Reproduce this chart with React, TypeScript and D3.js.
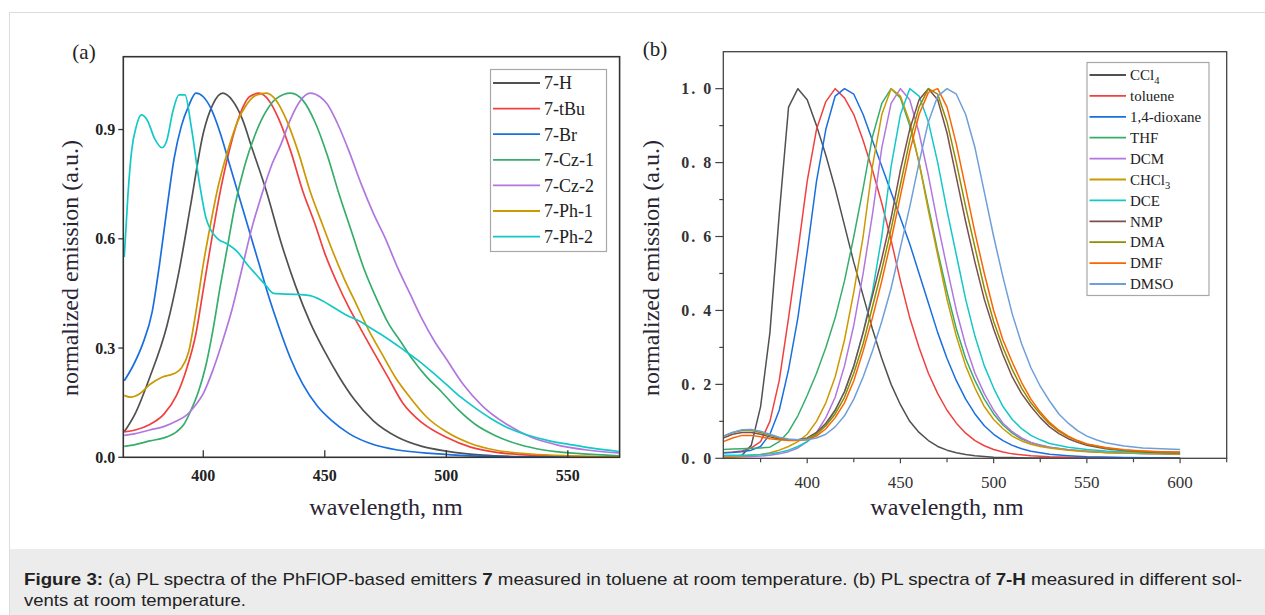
import { useEffect, useRef } from 'react'
import * as d3 from 'd3'

type Pt = [number, number]

// ── (a) PL spectra of emitters 7 in toluene  [wavelength nm, normalized emission] ──
const EM_7H: Pt[] = [
  [367.5, 0.07], [372, 0.12], [378, 0.22], [385, 0.36], [390, 0.51], [395, 0.70], [400, 0.89],
  [404, 0.97], [408, 1.0], [412, 0.98], [416, 0.93], [420, 0.85], [426, 0.73], [432, 0.59],
  [438, 0.47], [444, 0.37], [450, 0.29], [456, 0.22], [462, 0.16], [470, 0.10], [480, 0.055],
  [490, 0.03], [500, 0.017], [515, 0.006], [530, 0.002], [550, 0.0005], [571, 0],
]
const EM_7TBU: Pt[] = [
  [367.5, 0.07], [372, 0.075], [378, 0.09], [384, 0.12], [389, 0.17], [393, 0.24], [397, 0.34],
  [400, 0.46], [403, 0.58], [407, 0.73], [411, 0.85], [415, 0.94], [419, 0.99], [423, 1.0],
  [427, 0.98], [431, 0.93], [436, 0.84], [441, 0.73], [446, 0.64], [450, 0.56], [455, 0.48],
  [460, 0.41], [465, 0.35], [470, 0.29], [476, 0.22], [482, 0.15], [490, 0.095], [500, 0.055],
  [510, 0.028], [520, 0.014], [535, 0.006], [550, 0.003], [571, 0],
]
const EM_7BR: Pt[] = [
  [367.5, 0.21], [371, 0.25], [375, 0.31], [379, 0.40], [382, 0.53], [385, 0.68], [388, 0.82],
  [391, 0.91], [394, 0.965], [397, 1.0], [400, 0.99], [403, 0.96], [407, 0.89], [411, 0.80],
  [415, 0.71], [419, 0.62], [423, 0.53], [427, 0.44], [431, 0.36], [436, 0.27], [441, 0.20],
  [447, 0.14], [453, 0.10], [460, 0.065], [470, 0.035], [480, 0.02], [495, 0.01], [510, 0.004],
  [530, 0.001], [571, 0],
]
const EM_7CZ1: Pt[] = [
  [367.5, 0.03], [372, 0.035], [378, 0.045], [385, 0.056], [389, 0.07], [392, 0.09], [395, 0.13],
  [398, 0.18], [401, 0.25], [404, 0.35], [407, 0.47], [410, 0.58], [413, 0.69], [417, 0.80],
  [421, 0.88], [425, 0.94], [430, 0.985], [436, 1.0], [441, 0.98], [446, 0.92], [451, 0.83],
  [456, 0.72], [461, 0.62], [466, 0.52], [471, 0.44], [476, 0.37], [481, 0.32], [486, 0.27],
  [492, 0.22], [498, 0.18], [505, 0.13], [512, 0.09], [520, 0.06], [530, 0.035], [540, 0.02],
  [555, 0.01], [571, 0.004],
]
const EM_7CZ2: Pt[] = [
  [367.5, 0.06], [372, 0.065], [378, 0.075], [384, 0.085], [389, 0.1], [393, 0.115], [397, 0.145],
  [400, 0.175], [404, 0.24], [408, 0.32], [412, 0.41], [416, 0.52], [420, 0.63], [424, 0.72],
  [428, 0.80], [432, 0.86], [436, 0.93], [440, 0.98], [444, 1.0], [448, 0.99], [451, 0.97],
  [455, 0.92], [460, 0.84], [465, 0.75], [470, 0.67], [475, 0.60], [480, 0.52], [485, 0.45],
  [490, 0.38], [495, 0.32], [500, 0.27], [507, 0.2], [515, 0.14], [525, 0.09], [535, 0.055],
  [545, 0.035], [558, 0.02], [571, 0.012],
]
const EM_7PH1: Pt[] = [
  [367.5, 0.17], [370, 0.165], [374, 0.175], [378, 0.20], [383, 0.22], [388, 0.23], [391, 0.245],
  [394, 0.29], [397, 0.40], [400, 0.53], [403, 0.64], [406, 0.74], [410, 0.84], [414, 0.92],
  [418, 0.97], [422, 0.995], [426, 1.0], [430, 0.98], [434, 0.93], [439, 0.84], [444, 0.73],
  [449, 0.64], [453, 0.57], [458, 0.49], [463, 0.42], [468, 0.35], [473, 0.29], [479, 0.22],
  [485, 0.165], [492, 0.11], [500, 0.07], [510, 0.038], [520, 0.02], [535, 0.009], [550, 0.004],
  [571, 0.001],
]
const EM_7PH2: Pt[] = [
  [367.5, 0.55], [369, 0.72], [370.5, 0.84], [372.5, 0.91], [374.5, 0.94], [377, 0.925],
  [380, 0.875], [383, 0.85], [385, 0.87], [387.5, 0.95], [390, 0.995], [392.5, 0.995], [395, 0.91],
  [398.5, 0.75], [401, 0.66], [403, 0.625], [406, 0.60], [410, 0.585], [414, 0.565], [418, 0.53],
  [422, 0.50], [426, 0.47], [429, 0.45], [435, 0.448], [440, 0.447], [444, 0.444], [449, 0.43],
  [454, 0.41], [459, 0.39], [464, 0.375], [470, 0.35], [476, 0.325], [482, 0.297], [488, 0.268],
  [494, 0.235], [500, 0.20], [506, 0.165], [512, 0.135], [518, 0.108], [525, 0.082], [533, 0.062],
  [542, 0.046], [551, 0.035], [560, 0.025], [571, 0.016],
]

const EMITTERS = ['7-H', '7-tBu', '7-Br', '7-Cz-1', '7-Cz-2', '7-Ph-1', '7-Ph-2']
const EMITTER_SPECTRA = [EM_7H, EM_7TBU, EM_7BR, EM_7CZ1, EM_7CZ2, EM_7PH1, EM_7PH2]
const EMITTER_COLORS = ['#515151', '#F14040', '#1A6FDF', '#37AD6B', '#B177DE', '#CC9900', '#14C8C8']

// ── (b) PL spectra of 7-H in different solvents ──
const S_CCL4: Pt[] = [
  [355, 0.002], [360, 0.004], [365, 0.008], [370, 0.035], [375, 0.14], [380, 0.34], [385, 0.66],
  [390, 0.95], [395, 1.0], [400, 0.97], [405, 0.90], [410, 0.82], [415, 0.73], [420, 0.63],
  [425, 0.53], [430, 0.44], [435, 0.35], [440, 0.27], [445, 0.20], [450, 0.145], [455, 0.10],
  [460, 0.07], [465, 0.048], [470, 0.032], [475, 0.022], [480, 0.015], [485, 0.01], [490, 0.007],
  [495, 0.005], [500, 0.003], [510, 0.002], [520, 0.001], [540, 0.0005], [560, 0], [600, 0],
]
const S_TOLUENE: Pt[] = [
  [355, 0.015], [360, 0.017], [365, 0.02], [370, 0.028], [375, 0.045], [380, 0.10], [385, 0.21],
  [390, 0.38], [395, 0.56], [400, 0.75], [405, 0.89], [410, 0.965], [415, 1.0], [420, 0.975],
  [425, 0.93], [430, 0.86], [435, 0.78], [440, 0.69], [445, 0.59], [450, 0.48], [455, 0.38],
  [460, 0.30], [465, 0.23], [470, 0.175], [475, 0.13], [480, 0.095], [485, 0.068], [490, 0.048],
  [495, 0.034], [500, 0.024], [505, 0.017], [510, 0.012], [520, 0.007], [530, 0.004], [540, 0.003],
  [560, 0.002], [580, 0.001], [600, 0.001],
]
const S_DIOXANE: Pt[] = [
  [355, 0.015], [360, 0.016], [365, 0.018], [370, 0.022], [375, 0.032], [380, 0.065], [385, 0.13],
  [390, 0.24], [395, 0.38], [400, 0.56], [405, 0.75], [410, 0.89], [415, 0.98], [420, 1.0],
  [425, 0.985], [430, 0.93], [435, 0.86], [440, 0.79], [445, 0.72], [450, 0.65], [455, 0.58],
  [460, 0.50], [465, 0.42], [470, 0.34], [475, 0.27], [480, 0.21], [485, 0.16], [490, 0.12],
  [495, 0.088], [500, 0.065], [505, 0.048], [510, 0.035], [515, 0.026], [520, 0.019], [530, 0.011],
  [540, 0.007], [550, 0.004], [570, 0.002], [600, 0.001],
]
const S_THF: Pt[] = [
  [355, 0.024], [360, 0.025], [365, 0.026], [370, 0.027], [375, 0.028], [380, 0.03], [385, 0.045],
  [390, 0.072], [395, 0.115], [400, 0.17], [405, 0.23], [410, 0.30], [415, 0.38], [420, 0.48],
  [425, 0.60], [430, 0.73], [435, 0.87], [440, 0.96], [445, 1.0], [450, 0.975], [455, 0.90],
  [460, 0.80], [465, 0.68], [470, 0.56], [475, 0.45], [480, 0.35], [485, 0.27], [490, 0.21],
  [495, 0.16], [500, 0.12], [505, 0.09], [510, 0.068], [515, 0.052], [520, 0.042], [530, 0.03],
  [540, 0.023], [550, 0.019], [560, 0.016], [570, 0.014], [580, 0.013], [590, 0.012], [600, 0.011],
]
const S_DCM: Pt[] = [
  [355, 0.003], [360, 0.003], [365, 0.004], [370, 0.005], [375, 0.006], [380, 0.008], [385, 0.012],
  [390, 0.018], [395, 0.028], [400, 0.045], [405, 0.07], [410, 0.11], [415, 0.165], [420, 0.25],
  [425, 0.36], [430, 0.50], [435, 0.66], [440, 0.84], [445, 0.96], [450, 1.0], [455, 0.97],
  [460, 0.88], [465, 0.765], [470, 0.635], [475, 0.515], [480, 0.40], [485, 0.305], [490, 0.23],
  [495, 0.175], [500, 0.13], [505, 0.095], [510, 0.072], [515, 0.055], [520, 0.043], [525, 0.035],
  [530, 0.03], [540, 0.023], [550, 0.019], [560, 0.016], [570, 0.014], [580, 0.013], [590, 0.012],
  [600, 0.011],
]
const S_CHCL3: Pt[] = [
  [355, 0.005], [360, 0.005], [365, 0.006], [370, 0.008], [375, 0.01], [380, 0.015], [385, 0.022],
  [390, 0.032], [395, 0.045], [400, 0.065], [405, 0.10], [410, 0.15], [415, 0.22], [420, 0.32],
  [425, 0.45], [430, 0.60], [435, 0.79], [440, 0.93], [445, 1.0], [450, 0.98], [455, 0.91],
  [460, 0.80], [465, 0.67], [470, 0.55], [475, 0.43], [480, 0.33], [485, 0.25], [490, 0.19],
  [495, 0.14], [500, 0.105], [505, 0.08], [510, 0.06], [515, 0.047], [520, 0.038], [525, 0.032],
  [530, 0.028], [540, 0.022], [550, 0.018], [560, 0.016], [570, 0.014], [580, 0.013], [590, 0.012],
  [600, 0.011],
]
const S_DCE: Pt[] = [
  [355, 0.008], [360, 0.008], [365, 0.008], [370, 0.009], [375, 0.01], [380, 0.012], [385, 0.016],
  [390, 0.022], [395, 0.032], [400, 0.045], [405, 0.065], [410, 0.09], [415, 0.13], [420, 0.18],
  [425, 0.25], [430, 0.34], [435, 0.45], [440, 0.60], [445, 0.79], [450, 0.93], [455, 1.0],
  [460, 0.98], [465, 0.91], [470, 0.80], [475, 0.67], [480, 0.55], [485, 0.43], [490, 0.33],
  [495, 0.25], [500, 0.19], [505, 0.14], [510, 0.105], [515, 0.08], [520, 0.062], [525, 0.05],
  [530, 0.04], [540, 0.03], [550, 0.024], [560, 0.02], [570, 0.018], [580, 0.016], [590, 0.015],
  [600, 0.014],
]
const S_NMP: Pt[] = [
  [355, 0.055], [360, 0.065], [365, 0.07], [370, 0.07], [375, 0.065], [380, 0.058], [385, 0.052],
  [390, 0.05], [395, 0.05], [400, 0.055], [405, 0.07], [410, 0.095], [415, 0.13], [420, 0.18],
  [425, 0.25], [430, 0.34], [435, 0.44], [440, 0.54], [445, 0.65], [450, 0.78], [455, 0.89],
  [460, 0.97], [465, 1.0], [470, 0.97], [475, 0.88], [480, 0.76], [485, 0.64], [490, 0.53],
  [495, 0.43], [500, 0.35], [505, 0.28], [510, 0.22], [515, 0.175], [520, 0.14], [525, 0.11],
  [530, 0.085], [535, 0.067], [540, 0.053], [545, 0.043], [550, 0.035], [560, 0.026], [570, 0.021],
  [580, 0.018], [590, 0.016], [600, 0.015],
]
const S_DMA: Pt[] = [
  [355, 0.06], [360, 0.07], [365, 0.075], [370, 0.075], [375, 0.07], [380, 0.062], [385, 0.055],
  [390, 0.05], [395, 0.05], [400, 0.053], [405, 0.065], [410, 0.088], [415, 0.12], [420, 0.165],
  [425, 0.23], [430, 0.31], [435, 0.41], [440, 0.51], [445, 0.62], [450, 0.74], [455, 0.86],
  [460, 0.95], [465, 1.0], [470, 0.985], [475, 0.91], [480, 0.80], [485, 0.68], [490, 0.57],
  [495, 0.46], [500, 0.37], [505, 0.30], [510, 0.24], [515, 0.19], [520, 0.15], [525, 0.12],
  [530, 0.093], [535, 0.073], [540, 0.058], [545, 0.047], [550, 0.038], [560, 0.028], [570, 0.022],
  [580, 0.019], [590, 0.017], [600, 0.016],
]
const S_DMF: Pt[] = [
  [355, 0.045], [360, 0.055], [365, 0.062], [370, 0.062], [375, 0.058], [380, 0.053], [385, 0.05],
  [390, 0.048], [395, 0.048], [400, 0.05], [405, 0.06], [410, 0.08], [415, 0.11], [420, 0.15],
  [425, 0.21], [430, 0.29], [435, 0.38], [440, 0.48], [445, 0.59], [450, 0.71], [455, 0.83],
  [460, 0.93], [465, 0.99], [470, 1.0], [475, 0.95], [480, 0.85], [485, 0.73], [490, 0.61],
  [495, 0.50], [500, 0.40], [505, 0.32], [510, 0.26], [515, 0.205], [520, 0.16], [525, 0.125],
  [530, 0.097], [535, 0.076], [540, 0.06], [545, 0.048], [550, 0.039], [560, 0.029], [570, 0.023],
  [580, 0.02], [590, 0.018], [600, 0.017],
]
const S_DMSO: Pt[] = [
  [355, 0.06], [360, 0.07], [365, 0.077], [370, 0.078], [375, 0.073], [380, 0.065], [385, 0.057],
  [390, 0.052], [395, 0.05], [400, 0.05], [405, 0.055], [410, 0.065], [415, 0.085], [420, 0.115],
  [425, 0.16], [430, 0.22], [435, 0.29], [440, 0.37], [445, 0.46], [450, 0.57], [455, 0.68],
  [460, 0.80], [465, 0.91], [470, 0.98], [475, 1.0], [480, 0.985], [485, 0.93], [490, 0.84],
  [495, 0.72], [500, 0.60], [505, 0.49], [510, 0.39], [515, 0.31], [520, 0.245], [525, 0.195],
  [530, 0.155], [535, 0.12], [540, 0.095], [545, 0.075], [550, 0.06], [555, 0.05], [560, 0.042],
  [570, 0.033], [580, 0.028], [590, 0.026], [600, 0.024],
]

const SOLVENTS = ['CCl4', 'toluene', '1,4-dioxane', 'THF', 'DCM', 'CHCl3', 'DCE', 'NMP', 'DMA', 'DMF', 'DMSO']
const SOLVENT_SPECTRA = [S_CCL4, S_TOLUENE, S_DIOXANE, S_THF, S_DCM, S_CHCL3, S_DCE, S_NMP, S_DMA, S_DMF, S_DMSO]
const SOLVENT_COLORS = ['#515151', '#F14040', '#1A6FDF', '#37AD6B', '#B177DE', '#CC9900', '#14C8C8',
  '#7D4E4E', '#8E8E00', '#FB6501', '#6F9FD8']

// tick values
const A_XTICKS = [400, 450, 500, 550]
const A_YTICKS = [0, 0.3, 0.6, 0.9]
const B_XTICKS = [400, 450, 500, 550, 600]
const B_XMINOR = [375, 425, 475, 525, 575, 625]
const B_YTICKS = [0, 0.2, 0.4, 0.6, 0.8, 1.0]
const B_YMINOR = [0.1, 0.3, 0.5, 0.7, 0.9]

const SERIF = '"Liberation Serif", "Times New Roman", serif'
const TITLE_COLOR = '#2a2433'

// label with chemical subscript (CCl4, CHCl3)
function addLabel(sel: any, name: string) {
  const m = name.match(/^(.*Cl)(\d)$/)
  if (!m) { sel.text(name); return }
  sel.append('tspan').text(m[1])
  sel.append('tspan').attr('dy', 4).attr('font-size', '70%').text(m[2])
}

export default function App() {
  const svgRef = useRef<SVGSVGElement>(null)

  useEffect(() => {
    if (!svgRef.current) return
    const svg = d3.select(svgRef.current)
    svg.selectAll('*').remove()

    // figure frame + caption
    svg.append('rect').attr('x', 9.5).attr('y', 12.5).attr('width', 1265).attr('height', 620)
      .attr('fill', 'none').attr('stroke', '#dcdcdc')
    svg.append('rect').attr('x', 10).attr('y', 549).attr('width', 1255).attr('height', 66).attr('fill', '#ececec')

    // condensed caption: Liberation Sans squeezed to the reference line widths
    const cap = svg.append('g').attr('font-family', '"Liberation Sans", Arial, sans-serif')
      .attr('font-size', 17).attr('fill', '#222')
    const l1 = cap.append('text').attr('x', 24).attr('y', 585)
      .attr('textLength', 1218).attr('lengthAdjust', 'spacingAndGlyphs')
    l1.append('tspan').attr('font-weight', 700).text('Figure 3:')
    l1.append('tspan').text(' (a) PL spectra of the PhFlOP-based emitters ')
    l1.append('tspan').attr('font-weight', 700).text('7')
    l1.append('tspan').text(' measured in toluene at room temperature. (b) PL spectra of ')
    l1.append('tspan').attr('font-weight', 700).text('7-H')
    l1.append('tspan').text(' measured in different sol-')
    cap.append('text').attr('x', 24).attr('y', 606)
      .attr('textLength', 222).attr('lengthAdjust', 'spacingAndGlyphs')
      .text('vents at room temperature.')

    // ── panel (a) ──
    {
      const L = 123.3, R = 619.6, T = 56.7, B = 457.3
      const x = d3.scaleLinear().domain([367.1, 571.3]).range([L, R])
      const y = d3.scaleLinear().domain([0, 1.1]).range([B, T])
      const g = svg.append('g')
      g.append('clipPath').attr('id', 'clipA').append('rect')
        .attr('x', L).attr('y', T).attr('width', R - L).attr('height', B - T)
      const line = d3.line<Pt>().x(d => x(d[0])).y(d => y(d[1])).curve(d3.curveMonotoneX)
      EMITTER_SPECTRA.forEach((s, i) => {
        g.append('path').attr('d', line(s)).attr('fill', 'none').attr('stroke', EMITTER_COLORS[i])
          .attr('stroke-width', 1.7).attr('clip-path', 'url(#clipA)')
      })
      g.append('rect').attr('x', L).attr('y', T).attr('width', R - L).attr('height', B - T)
        .attr('fill', 'none').attr('stroke', '#333').attr('stroke-width', 1.6)

      A_XTICKS.forEach(t => {
        g.append('line').attr('x1', x(t)).attr('x2', x(t)).attr('y1', B).attr('y2', B - 7)
          .attr('stroke', '#333').attr('stroke-width', 1.3)
        g.append('text').attr('x', x(t)).attr('y', B + 24).attr('text-anchor', 'middle')
          .attr('font-family', SERIF).attr('font-weight', 700).attr('font-size', 16).attr('fill', '#222')
          .text(t)
      })
      A_YTICKS.forEach(t => {
        g.append('line').attr('x1', L - 5).attr('x2', L).attr('y1', y(t)).attr('y2', y(t))
          .attr('stroke', '#333').attr('stroke-width', 1.3)
        g.append('text').attr('x', L - 8).attr('y', y(t)).attr('dy', '0.35em').attr('text-anchor', 'end')
          .attr('font-family', SERIF).attr('font-weight', 700).attr('font-size', 16).attr('fill', '#222')
          .text(d3.format('.1f')(t))
      })

      g.append('text').attr('x', 386).attr('y', 515).attr('text-anchor', 'middle')
        .attr('font-family', SERIF).attr('font-size', 24).attr('fill', TITLE_COLOR).text('wavelength, nm')
      g.append('text').attr('transform', `translate(78,${(T + B) / 2 + 11}) rotate(-90)`).attr('text-anchor', 'middle')
        .attr('font-family', SERIF).attr('font-size', 24).attr('fill', TITLE_COLOR).text('normalized emission (a.u.)')
      g.append('text').attr('x', 84).attr('y', 59).attr('text-anchor', 'middle')
        .attr('font-family', SERIF).attr('font-size', 21).attr('fill', '#222').text('(a)')

      // legend
      const lg = g.append('g')
      lg.append('rect').attr('x', 490.5).attr('y', 69.5).attr('width', 116).attr('height', 182)
        .attr('fill', '#fff').attr('stroke', '#a8a8a8').attr('stroke-width', 1.2)
      EMITTERS.forEach((name, i) => {
        const ry = 83 + i * 25.6
        lg.append('line').attr('x1', 493).attr('x2', 540).attr('y1', ry).attr('y2', ry)
          .attr('stroke', EMITTER_COLORS[i]).attr('stroke-width', 1.8)
        lg.append('text').attr('x', 544).attr('y', ry).attr('dy', '0.35em')
          .attr('font-family', SERIF).attr('font-size', 18).attr('fill', '#222').text(name)
      })
    }

    // ── panel (b) ──
    {
      const L = 723.3, R = 1226.7, T = 51.7, B = 458.3
      const x = d3.scaleLinear().domain([355, 625]).range([L, R])
      const y = d3.scaleLinear().domain([0, 1.1]).range([B, T])
      const g = svg.append('g')
      g.append('clipPath').attr('id', 'clipB').append('rect')
        .attr('x', L).attr('y', T).attr('width', R - L).attr('height', B - T)
      const line = d3.line<Pt>().x(d => x(d[0])).y(d => y(d[1])).curve(d3.curveLinear)
      SOLVENT_SPECTRA.forEach((s, i) => {
        g.append('path').attr('d', line(s)).attr('fill', 'none').attr('stroke', SOLVENT_COLORS[i])
          .attr('stroke-width', 1.5).attr('stroke-linejoin', 'round').attr('clip-path', 'url(#clipB)')
      })
      g.append('rect').attr('x', L).attr('y', T).attr('width', R - L).attr('height', B - T)
        .attr('fill', 'none').attr('stroke', '#444').attr('stroke-width', 1.3)

      B_XTICKS.forEach(t => {
        g.append('line').attr('x1', x(t)).attr('x2', x(t)).attr('y1', B).attr('y2', B + 5)
          .attr('stroke', '#444').attr('stroke-width', 1.2)
        g.append('text').attr('x', x(t)).attr('y', B + 30).attr('text-anchor', 'middle')
          .attr('font-family', SERIF).attr('font-size', 17).attr('fill', '#333').text(t)
      })
      B_XMINOR.forEach(t => {
        g.append('line').attr('x1', x(t)).attr('x2', x(t)).attr('y1', B).attr('y2', B + 4)
          .attr('stroke', '#444').attr('stroke-width', 1.2)
      })
      B_YTICKS.forEach(t => {
        g.append('line').attr('x1', L - 8).attr('x2', L).attr('y1', y(t)).attr('y2', y(t))
          .attr('stroke', '#444').attr('stroke-width', 1.2)
        g.append('text').attr('x', L - 10).attr('y', y(t)).attr('dy', '0.35em').attr('text-anchor', 'end')
          .attr('font-family', SERIF).attr('font-weight', 700).attr('font-size', 16).attr('fill', '#333')
          .attr('letter-spacing', 2).text(d3.format('.1f')(t).replace('.', '. '))
      })
      B_YMINOR.forEach(t => {
        g.append('line').attr('x1', L - 4).attr('x2', L).attr('y1', y(t)).attr('y2', y(t))
          .attr('stroke', '#444').attr('stroke-width', 1.2)
      })

      g.append('text').attr('x', 947).attr('y', 515).attr('text-anchor', 'middle')
        .attr('font-family', SERIF).attr('font-size', 24).attr('fill', TITLE_COLOR).text('wavelength, nm')
      g.append('text').attr('transform', `translate(659,${(T + B) / 2 + 13}) rotate(-90)`).attr('text-anchor', 'middle')
        .attr('font-family', SERIF).attr('font-size', 24).attr('fill', TITLE_COLOR).text('normalized emission (a.u.)')
      g.append('text').attr('x', 655).attr('y', 56).attr('text-anchor', 'middle')
        .attr('font-family', SERIF).attr('font-size', 21).attr('fill', '#222').text('(b)')

      // legend
      const lg = g.append('g')
      lg.append('rect').attr('x', 1087).attr('y', 62.5).attr('width', 122).attr('height', 233)
        .attr('fill', '#fff').attr('stroke', '#a8a8a8').attr('stroke-width', 1.2)
      SOLVENTS.forEach((name, i) => {
        const ry = 75 + i * 20.9
        lg.append('line').attr('x1', 1089.5).attr('x2', 1126).attr('y1', ry).attr('y2', ry)
          .attr('stroke', SOLVENT_COLORS[i]).attr('stroke-width', 1.8)
        const tx = lg.append('text').attr('x', 1130).attr('y', ry).attr('dy', '0.35em')
          .attr('font-family', SERIF).attr('font-size', 15).attr('fill', '#222')
        addLabel(tx, name)
      })
    }
  }, [])

  return (
    <div style={{ position: 'fixed', left: 0, top: 0, width: 1265, height: 615, background: '#fff' }}>
      <svg ref={svgRef} width={1265} height={615} style={{ display: 'block' }} />
    </div>
  )
}
